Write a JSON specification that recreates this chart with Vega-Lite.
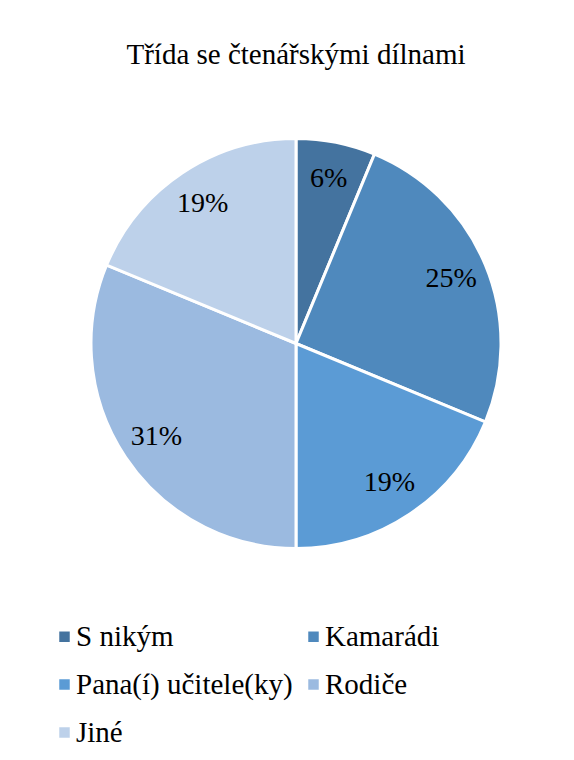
{
  "$schema": "https://vega.github.io/schema/vega-lite/v6.json",
  "autosize": "none",
  "padding": {"left": 20, "top": 16, "right": 0, "bottom": 89},
  "width": 552,
  "height": 655,
  "background": "white",
  "title": {
    "text": "Třída se čtenářskými dílnami",
    "font": "Liberation Serif",
    "fontSize": 29,
    "fontWeight": "normal",
    "color": "#000000",
    "anchor": "middle",
    "frame": "group",
    "offset": -54
  },
  "data": {
    "values": [
      {"kategorie": "S nikým", "podil": 0.0625, "poradi": 1},
      {"kategorie": "Kamarádi", "podil": 0.25, "poradi": 2},
      {"kategorie": "Pana(í) učitele(ky)", "podil": 0.1875, "poradi": 3},
      {"kategorie": "Rodiče", "podil": 0.3125, "poradi": 4},
      {"kategorie": "Jiné", "podil": 0.1875, "poradi": 5}
    ]
  },
  "encoding": {
    "theta": {"field": "podil", "type": "quantitative", "stack": true},
    "order": {"field": "poradi", "type": "quantitative"},
    "color": {
      "field": "kategorie",
      "type": "nominal",
      "scale": {
        "domain": ["S nikým", "Kamarádi", "Pana(í) učitele(ky)", "Rodiče", "Jiné"],
        "range": ["#44739F", "#4F89BD", "#5B9BD5", "#9BBAE0", "#BDD1EA"]
      },
      "legend": {
        "orient": "none",
        "direction": "horizontal",
        "legendX": 30,
        "legendY": 606,
        "padding": 0,
        "columns": 2,
        "columnPadding": 6,
        "rowPadding": 18,
        "title": null,
        "symbolType": "square",
        "symbolSize": 110,
        "symbolStrokeWidth": 0,
        "labelFont": "Liberation Serif",
        "labelFontSize": 29,
        "labelColor": "#000000",
        "labelOffset": -3,
        "labelLimit": 400
      }
    }
  },
  "layer": [
    {
      "mark": {"type": "arc", "radius": 205, "stroke": "white", "strokeWidth": 3}
    },
    {
      "mark": {
        "type": "text",
        "radius": 168,
        "font": "Liberation Serif",
        "fontSize": 28,
        "color": "#000000"
      },
      "encoding": {
        "text": {"field": "podil", "type": "quantitative", "format": ".0%"},
        "color": {"value": "#000000"}
      }
    }
  ],
  "config": {
    "font": "Liberation Serif",
    "view": {"stroke": null},
    "text": {"font": "Liberation Serif"},
    "legend": {"labelFont": "Liberation Serif"}
  }
}
